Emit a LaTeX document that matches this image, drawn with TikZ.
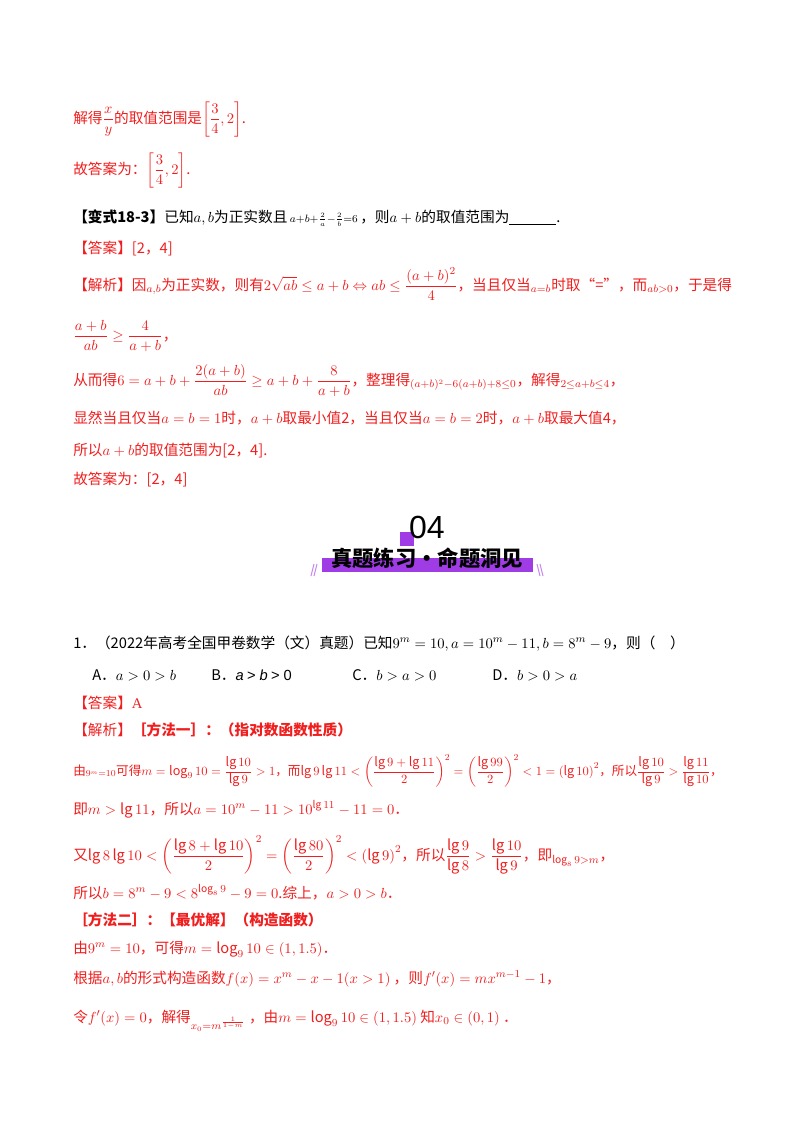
\documentclass[tikz,border=0pt]{standalone}
\usepackage{amsmath,amssymb}
\usepackage{fontspec}
\setmainfont{Noto Sans CJK SC}
\newfontfamily\tms{Liberation Serif}
\newfontfamily\sfb{Liberation Sans}
\definecolor{ered}{RGB}{240,30,30}
\definecolor{pur}{RGB}{160,60,230}
\begin{document}
\begin{tikzpicture}[x=0.75pt,y=-0.75pt,
  ln/.style={anchor=base west,inner sep=0pt,font=\fontsize{11}{13}\selectfont},
  rd/.style={ln,text=ered}]
\useasboundingbox (0,0) rectangle (800,1132);
\node[rd] (l1) at (73,123) {解得$\dfrac{x}{y}$的取值范围是$\left[\dfrac34,2\right]$.};
\node[rd] (l2) at (73,174) {故答案为：$\left[\dfrac34,2\right]$.};
\node[ln] (l3) at (73,222) {\textbf{【变式18-3】}已知$a,b$为正实数且\,${\scriptstyle a+b+\frac2a-\frac2b=6}$\,，则$a+b$的取值范围为\underline{\hspace{3.2em}}.};
\node[rd] (l4) at (73,253) {【答案】[2，4]};
\node[rd] (l5) at (73,290) {【解析】因$_{a,b}$为正实数，则有$2\sqrt{ab}\le a+b\Leftrightarrow ab\le\dfrac{(a+b)^2}{4}$，当且仅当$_{a=b}$时取“=”，而$_{ab>0}$，于是得};
\node[rd] (l6) at (73,340) {$\dfrac{a+b}{ab}\ge\dfrac{4}{a+b}$，};
\node[rd] (l7) at (73,385) {从而得$6=a+b+\dfrac{2(a+b)}{ab}\ge a+b+\dfrac{8}{a+b}$，整理得$_{(a+b)^2-6(a+b)+8\le0}$，解得$_{2\le a+b\le4}$，};
\node[rd] (l8) at (73,423) {显然当且仅当$a=b=1$时，$a+b$取最小值2，当且仅当$a=b=2$时，$a+b$取最大值4，};
\node[rd] (l9) at (73,455) {所以$a+b$的取值范围为[2，4].};
\node[rd] (l10) at (73,484) {故答案为：[2，4]};
% banner
\fill[pur] (400,532) rectangle (414,546);
\node[anchor=center,inner sep=0pt,font=\fontsize{24}{26}\sfb\selectfont] (n04) at (427,527) {04};
\fill[pur] (322,558) rectangle (533,572);
\node[anchor=center,inner sep=0pt,font=\fontsize{16}{18}\selectfont\bfseries] (bt) at (427,558) {真题练习·命题洞见};
\draw[pur!60,line width=0.8pt] (311,576)--(314,564) (314,576)--(317,564) (537,564)--(540,576) (540,564)--(543,576);
\node[ln] (q1) at (73,648) {1．（2022年高考全国甲卷数学（文）真题）已知$9^m=10,a=10^m-11,b=8^m-9$，则（\quad）};
\node[ln] (oa) at (92,680) {A．$a>0>b$};
\node[ln] (ob) at (211,680) {B．{\sfb\itshape a} {\sfb > \itshape b} {\sfb > 0}};
\node[ln] (oc) at (352,680) {C．$b>a>0$};
\node[ln] (od) at (492,680) {D．$b>0>a$};
\node[rd] (ans) at (73,708) {【答案】{\tms A}};
\node[rd] (jx) at (73,735) {【解析】\textbf{［方法一］：（指对数函数性质）}};
\node[rd] (e1) at (73,775) {\resizebox{487pt}{!}{由$_{9^m=10}$可得$m=\log_9 10=\dfrac{\lg10}{\lg9}>1$，而$\lg9\lg11<\left(\dfrac{\lg9+\lg11}{2}\right)^2=\left(\dfrac{\lg99}{2}\right)^2<1=\left(\lg10\right)^2$，所以$\dfrac{\lg10}{\lg9}>\dfrac{\lg11}{\lg10}$，}};
\node[rd] (e2) at (73,814) {即$m>\lg11$，所以$a=10^m-11>10^{\lg11}-11=0$．};
\node[rd] (e3) at (73,860) {又$\lg8\lg10<\left(\dfrac{\lg8+\lg10}{2}\right)^2=\left(\dfrac{\lg80}{2}\right)^2<\left(\lg9\right)^2$，所以$\dfrac{\lg9}{\lg8}>\dfrac{\lg10}{\lg9}$，即$_{\log_8 9>m}$，};
\node[rd] (e4) at (73,898) {所以$b=8^m-9<8^{\log_8 9}-9=0$.综上，$a>0>b$．};
\node[rd] (m2) at (73,925) {\textbf{［方法二］：【最优解】（构造函数）}};
\node[rd] (e5) at (73,953) {由$9^m=10$，可得$m=\log_9 10\in(1,1.5)$．};
\node[rd] (e6) at (73,983) {根据$a,b$的形式构造函数$f(x)=x^m-x-1(x>1)$\ ，则$f'(x)=mx^{m-1}-1$，};
\node[rd] (e7) at (73,1022) {令$f'(x)=0$，解得$_{x_0=m^{\frac{1}{1-m}}}$\ ，由$m=\log_9 10\in(1,1.5)$\ 知$x_0\in(0,1)$\ ．};
\end{tikzpicture}
\end{document}
